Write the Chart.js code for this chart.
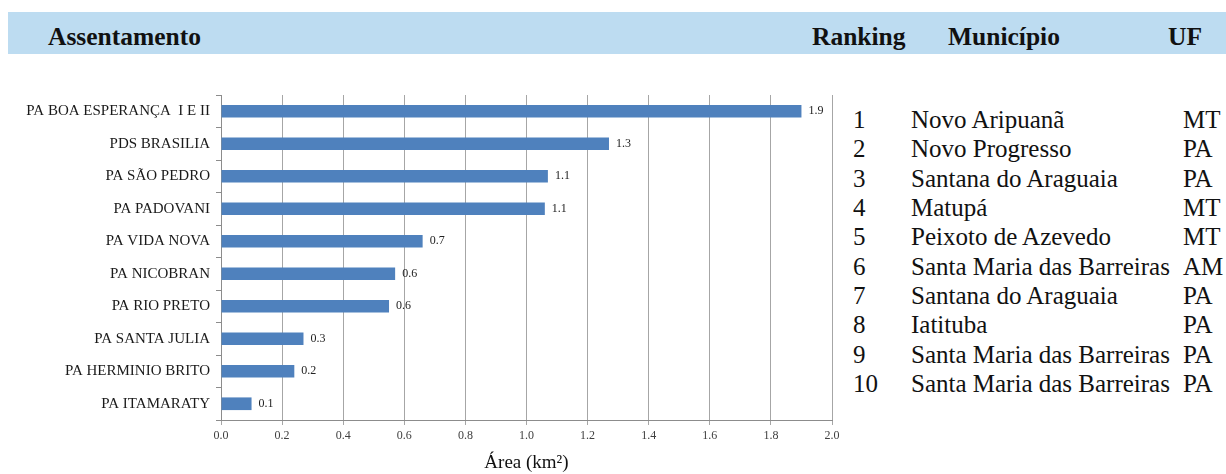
<!DOCTYPE html>
<html>
<head>
<meta charset="utf-8">
<script src="https://cdn.jsdelivr.net/npm/chart.js@4.4.0/dist/chart.umd.min.js"></script>
<style>
    body { margin: 0; width: 1226px; height: 474px; background: #fff; position: relative; overflow: hidden; }
    .band { position: absolute; left: 8px; top: 12px; width: 1218px; height: 42px; background: #bddcf1; }
    .head { position: absolute; top: 23.6px; font-family: 'Liberation Serif', 'Times New Roman', serif; font-size: 25.5px; line-height: 25.5px; font-weight: bold; color: #111; }
    .row { position: absolute; font-family: 'Liberation Serif', 'Times New Roman', serif; font-size: 25px; line-height: 25px; color: #111; white-space: nowrap; }
    #wrap { position: absolute; left: 0; top: 80px; width: 860px; height: 394px; }
</style>
</head>
<body>
<div class="band"></div>
<div class="head" style="left:48px">Assentamento</div>
<div class="head" style="left:812px">Ranking</div>
<div class="head" style="left:948px">Município</div>
<div class="head" style="left:1168px">UF</div>
<div id="table"></div>
<div id="wrap"><canvas id="chart"></canvas></div>
<script>
const assentamentos = [
    'PA BOA ESPERANÇA  I E II', 'PDS BRASILIA', 'PA SÃO PEDRO', 'PA PADOVANI', 'PA VIDA NOVA',
    'PA NICOBRAN', 'PA RIO PRETO', 'PA SANTA JULIA', 'PA HERMINIO BRITO', 'PA ITAMARATY'
];
const areaKm2 = [1.9, 1.27, 1.07, 1.06, 0.66, 0.57, 0.55, 0.27, 0.24, 0.1];
const xTicks = [0, 0.2, 0.4, 0.6, 0.8, 1.0, 1.2, 1.4, 1.6, 1.8, 2.0];

const ranking = ['1', '2', '3', '4', '5', '6', '7', '8', '9', '10'];
const municipios = [
    'Novo Aripuanã', 'Novo Progresso', 'Santana do Araguaia', 'Matupá', 'Peixoto de Azevedo',
    'Santa Maria das Barreiras', 'Santana do Araguaia', 'Iatituba', 'Santa Maria das Barreiras', 'Santa Maria das Barreiras'
];
const ufs = ['MT', 'PA', 'PA', 'MT', 'MT', 'AM', 'PA', 'PA', 'PA', 'PA'];

const serif = '"Liberation Serif", "Times New Roman", serif';

window.addEventListener('load', () => {
    buildTable();
    buildAreaChart();
});

function buildTable() {
    const table = document.getElementById('table');
    ranking.forEach((r, i) => {
        const top = 107 + i * 29.33;
        [[853, r], [911, municipios[i]], [1183, ufs[i]]].forEach(([left, text]) => {
            const el = document.createElement('div');
            el.className = 'row';
            el.style.left = left + 'px';
            el.style.top = top + 'px';
            el.textContent = text;
            table.appendChild(el);
        });
    });
}

const valueLabels = {
    id: 'valueLabels',
    afterDatasetsDraw(chart) {
        const ctx = chart.ctx;
        const meta = chart.getDatasetMeta(0);
        ctx.save();
        ctx.font = '12px ' + serif;
        ctx.fillStyle = '#222';
        ctx.textBaseline = 'middle';
        meta.data.forEach((bar, i) => {
            ctx.fillText(areaKm2[i].toFixed(1), bar.x + 7, bar.y);
        });
        ctx.restore();
    }
};

function buildAreaChart() {
    const chartCtx = document.getElementById('chart').getContext('2d');

    new Chart(chartCtx, {
        type: 'bar',
        data: {
            labels: assentamentos,
            datasets: [{
                data: areaKm2,
                backgroundColor: '#4f81bd',
                borderWidth: 0,
                categoryPercentage: 1,
                barPercentage: 0.39
            }]
        },
        plugins: [valueLabels],
        options: {
            indexAxis: 'y',
            responsive: true,
            maintainAspectRatio: false,
            animation: false,
            layout: {
                padding: { top: 14, right: 28, left: 0, bottom: 0 }
            },
            plugins: {
                legend: { display: false },
                tooltip: { enabled: false }
            },
            scales: {
                x: {
                    min: 0,
                    max: 2,
                    afterBuildTicks: scale => {
                        scale.ticks = xTicks.map(v => ({ value: v }));
                    },
                    afterFit: scale => { scale.height = 54; },
                    ticks: {
                        callback: v => Number(v).toFixed(1),
                        font: { family: serif, size: 12 },
                        color: '#404040',
                        padding: 4,
                        maxRotation: 0
                    },
                    grid: {
                        color: '#a6a6a6',
                        tickLength: 5
                    },
                    border: { color: '#8c8c8c' },
                    title: {
                        display: true,
                        text: 'Área (km²)',
                        font: { family: serif, size: 19 },
                        color: '#111',
                        padding: { top: 0, bottom: 0 }
                    }
                },
                y: {
                    afterFit: scale => { scale.width = 221; },
                    ticks: {
                        font: { family: serif, size: 15 },
                        color: '#1a1a1a',
                        padding: 6
                    },
                    grid: {
                        drawOnChartArea: false,
                        color: '#8c8c8c',
                        tickLength: 5
                    },
                    border: { color: '#8c8c8c' }
                }
            }
        }
    });
}
</script>
</body>
</html>
